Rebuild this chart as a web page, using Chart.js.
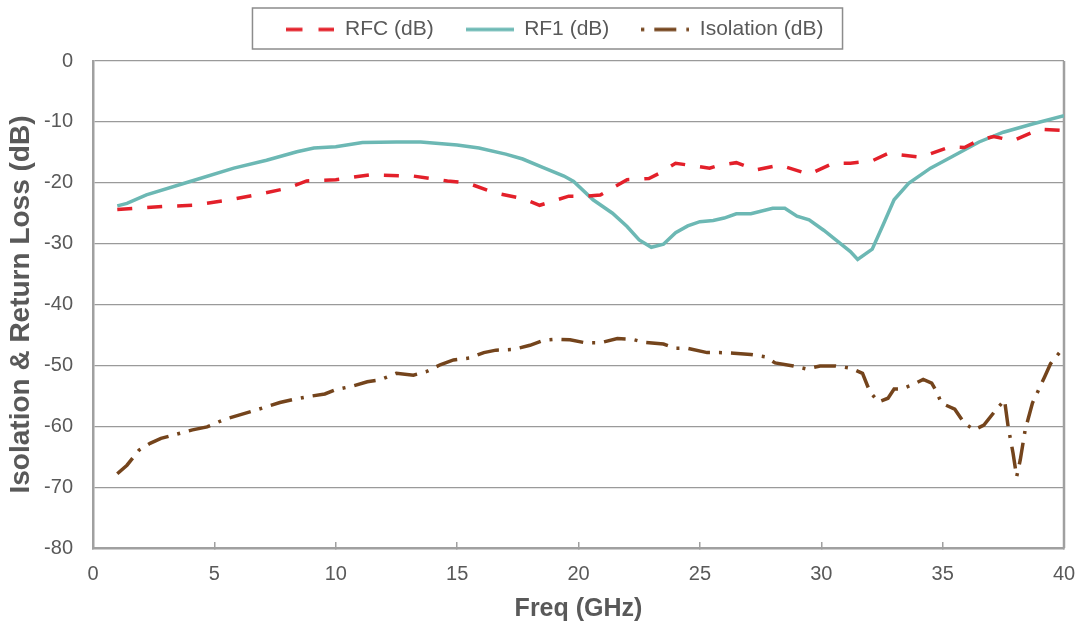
<!DOCTYPE html>
<html>
<head>
<meta charset="utf-8">
<script src="https://cdn.jsdelivr.net/npm/chart.js@4.4.1/dist/chart.umd.min.js"></script>
<style>
  html, body { margin: 0; padding: 0; background: #fff; }
  #wrap { width: 1078px; height: 624px; }
</style>
</head>
<body>
<div id="wrap"><canvas id="lossChart"></canvas></div>
<script>
// values (GHz / dB)
const rfcFreq = [1, 2.9, 4.1, 5.5, 6.7, 8, 8.8, 10, 11.4, 13.2, 14.6, 15.4, 16.5, 17.7, 18.4, 19.6, 20.3, 20.9, 22, 22.9, 23.3, 24, 25.4, 25.8, 26.5, 27.3, 28.3, 29.5, 30.5, 31.2, 32.1, 32.8, 33.2, 34.1, 35.3, 35.9, 36.5, 37.1, 37.9, 39, 40];
const rfcDb = [-24.4, -23.9, -23.7, -22.9, -22.0, -20.9, -19.7, -19.5, -18.7, -18.9, -19.7, -20.0, -21.6, -22.6, -23.7, -22.2, -22.2, -22.0, -19.5, -19.3, -18.5, -16.8, -17.6, -17.1, -16.7, -17.9, -17.1, -18.6, -16.8, -16.8, -16.4, -15.1, -15.4, -15.8, -14.1, -14.2, -13.0, -12.4, -13.1, -11.2, -11.4];

const rf1Freq = [1, 1.4, 2.2, 4, 5.8, 7.15, 8.4, 9.1, 10, 11.1, 12.5, 13.5, 15, 15.9, 17, 17.7, 18.55, 19.4, 19.8, 20.6, 21.4, 22, 22.5, 23, 23.5, 24, 24.5, 25, 25.55, 26, 26.5, 27.1, 28, 28.5, 29, 29.5, 30.1, 30.6, 31.2, 31.5, 32.1, 32.55, 33, 33.6, 34.5, 35.4, 36.5, 37.5, 38.7, 40];
const rf1Db = [-23.8, -23.4, -22.0, -19.8, -17.6, -16.3, -14.9, -14.3, -14.1, -13.4, -13.3, -13.3, -13.8, -14.3, -15.3, -16.1, -17.5, -18.9, -19.8, -22.8, -25.0, -27.2, -29.4, -30.6, -30.1, -28.2, -27.1, -26.4, -26.2, -25.8, -25.1, -25.1, -24.2, -24.2, -25.5, -26.1, -27.8, -29.4, -31.3, -32.6, -30.9, -26.9, -22.8, -20.1, -17.6, -15.7, -13.3, -11.7, -10.35, -9.0];

const isoFreq = [1, 1.4, 1.9, 2.35, 2.8, 4.1, 4.7, 5.4, 6.5, 7.15, 7.7, 8.25, 8.9, 9.55, 10, 10.7, 11.3, 11.8, 12.5, 13.2, 13.75, 14.3, 14.85, 15.5, 16.1, 16.6, 17.3, 18, 18.55, 19.1, 19.65, 20.3, 20.9, 21.6, 22.2, 22.7, 23.5, 24, 24.5, 25.3, 25.8, 26.4, 27.1, 27.7, 28.1, 28.85, 29.4, 29.95, 30.6, 31.25, 31.7, 32, 32.35, 32.75, 33, 33.3, 33.8, 34.2, 34.55, 34.75, 34.95, 35.5, 35.9, 36.3, 36.7, 37.2, 37.55, 37.7, 37.9, 38.05, 38.2, 38.4, 38.7, 39.2, 39.45, 40];
const isoDb = [-67.8, -66.4, -63.9, -62.8, -62.0, -60.6, -60.1, -58.9, -57.6, -56.8, -56.1, -55.6, -55.1, -54.7, -54.0, -53.4, -52.7, -52.4, -51.3, -51.6, -51.0, -49.9, -49.1, -48.8, -47.9, -47.5, -47.4, -46.7, -45.9, -45.7, -45.8, -46.3, -46.3, -45.6, -45.7, -46.2, -46.5, -47.2, -47.2, -47.9, -47.9, -48.0, -48.2, -48.6, -49.6, -50.1, -50.6, -50.1, -50.1, -50.5, -51.3, -54.3, -56.0, -55.4, -53.9, -53.9, -53.1, -52.3, -52.9, -54.3, -56.2, -57.2, -59.5, -60.6, -59.8, -57.3, -55.7, -60.1, -64.4, -68.3, -65.5, -60.6, -56.2, -51.9, -49.7, -47.0];

const seriesNames = ['RFC (dB)', 'RF1 (dB)', 'Isolation (dB)'];
const xTitle = 'Freq (GHz)';
const yTitle = 'Isolation & Return Loss (dB)';

const FONT = "'Liberation Sans', Arial, sans-serif";
const AXIS_GREY = '#a0a0a0';
const TEXT_GREY = '#595959';

function toPoints(xs, ys) {
  return xs.map((x, i) => ({x: x, y: ys[i]}));
}

// little line sample for the legend, so the dash pattern shows there too
function legendSample(color, dash) {
  const c = document.createElement('canvas');
  c.width = 48;
  c.height = 6;
  const g = c.getContext('2d');
  g.strokeStyle = color;
  g.lineWidth = 3.5;
  g.setLineDash(dash);
  g.beginPath();
  g.moveTo(0, 3);
  g.lineTo(48, 3);
  g.stroke();
  return c;
}

// legend sits in a framed box above the plot, and the plot is closed on the right
const framePlugin = {
  id: 'frame',
  afterLayout(chart) {
    const lg = chart.legend;
    const dx = 555 - (lg.left + lg.right) / 2;
    lg.left += dx;
    lg.right += dx;
    lg.top = -13;
    lg.bottom = lg.top + lg.height;
  },
  beforeDatasetsDraw(chart) {
    const {ctx, chartArea} = chart;
    ctx.save();
    ctx.strokeStyle = AXIS_GREY;
    ctx.lineWidth = 2.5;
    ctx.beginPath();
    ctx.moveTo(chartArea.right, chartArea.top);
    ctx.lineTo(chartArea.right, chartArea.bottom);
    ctx.stroke();
    ctx.restore();
  },
  afterDraw(chart) {
    const lg = chart.legend;
    const pad = lg.options.labels.padding;
    const half = (lg.lineWidths[0] - pad) / 2;
    const cx = (lg.left + lg.right) / 2;
    const ctx = chart.ctx;
    ctx.save();
    ctx.strokeStyle = '#8c8c8c';
    ctx.lineWidth = 1.5;
    ctx.strokeRect(cx - half - 34, 8, half * 2 + 53, 41);
    ctx.restore();
  }
};

new Chart(document.getElementById('lossChart').getContext('2d'), {
  type: 'scatter',
  data: {
    datasets: [{
      label: seriesNames[0],
      data: toPoints(rfcFreq, rfcDb),
      borderColor: '#e3202a',
      backgroundColor: '#e3202a',
      borderWidth: 3.5,
      borderDash: [15, 15],
      pointStyle: legendSample('#e3202a', [16, 16])
    }, {
      label: seriesNames[1],
      data: toPoints(rf1Freq, rf1Db),
      borderColor: '#6cb8b4',
      backgroundColor: '#6cb8b4',
      borderWidth: 3.5,
      pointStyle: legendSample('#6cb8b4', [])
    }, {
      label: seriesNames[2],
      data: toPoints(isoFreq, isoDb),
      borderColor: '#74441c',
      backgroundColor: '#74441c',
      borderWidth: 3.5,
      borderDash: [22, 9, 3, 9],
      pointStyle: legendSample('#74441c', [3, 10, 22, 10, 3, 0])
    }]
  },
  options: {
    responsive: true,
    maintainAspectRatio: false,
    animation: false,
    showLine: true,
    elements: {
      point: {radius: 0, hoverRadius: 0},
      line: {tension: 0, borderCapStyle: 'butt', fill: false}
    },
    layout: {padding: {top: -2, left: 0, right: 0, bottom: 0}},
    plugins: {
      tooltip: {enabled: false},
      legend: {
        position: 'top',
        labels: {
          usePointStyle: true,
          pointStyleWidth: 48,
          padding: 32,
          color: TEXT_GREY,
          font: {family: FONT, size: 21}
        }
      }
    },
    scales: {
      x: {
        type: 'linear',
        min: 0,
        max: 40,
        afterFit: (s) => { s.height = 76; s.paddingRight = 14; s.paddingLeft = 0; },
        ticks: {stepSize: 5, color: TEXT_GREY, padding: 20, font: {family: FONT, size: 20}},
        grid: {drawOnChartArea: false, drawTicks: true, tickLength: -6, color: AXIS_GREY, lineWidth: 1.5},
        border: {display: true, color: AXIS_GREY, width: 2.5},
        title: {display: true, text: xTitle, color: TEXT_GREY, padding: {top: 0, bottom: 0},
                font: {family: FONT, size: 25, weight: 'bold'}}
      },
      y: {
        min: -80,
        max: 0,
        afterFit: (s) => { s.width = 93; },
        ticks: {stepSize: 10, color: TEXT_GREY, padding: 20, font: {family: FONT, size: 20}},
        grid: {color: '#9a9a9a', lineWidth: 1.2, drawTicks: false},
        border: {display: true, color: AXIS_GREY, width: 2.5},
        title: {display: true, text: yTitle, color: TEXT_GREY, padding: {top: 4, bottom: 0},
                font: {family: FONT, size: 28, weight: 'bold'}}
      }
    }
  },
  plugins: [framePlugin]
});
</script>
</body>
</html>
